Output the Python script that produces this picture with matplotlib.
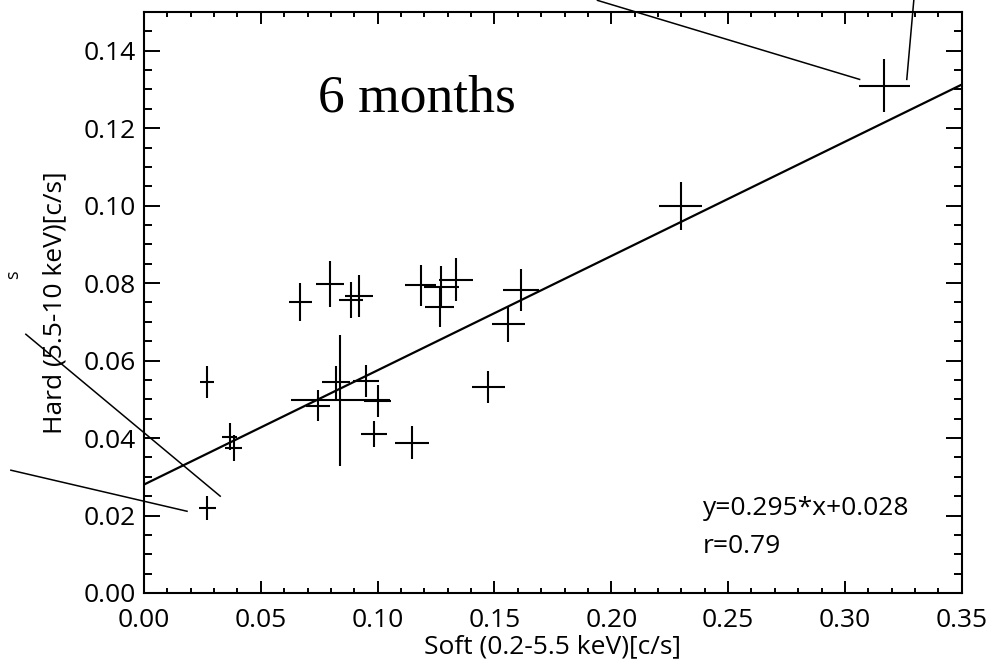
import matplotlib.pyplot as plt
from matplotlib.ticker import MultipleLocator

# soft / hard count rates with 1-sigma errors
soft = [0.0269, 0.0366, 0.0383, 0.0271, 0.0668, 0.0798, 0.0886, 0.0921,
        0.0840, 0.0823, 0.0744, 0.0950, 0.1000, 0.0985, 0.1185, 0.1272,
        0.1266, 0.1335, 0.1613, 0.1560, 0.1474, 0.1147, 0.2297, 0.3169]
soft_err = [0.0030, 0.0034, 0.0037, 0.0037, 0.0049, 0.0060, 0.0052, 0.0061,
            0.0213, 0.0060, 0.0050, 0.0054, 0.0057, 0.0057, 0.0066, 0.0075,
            0.0062, 0.0073, 0.0076, 0.0069, 0.0069, 0.0071, 0.0093, 0.0108]
hard = [0.0545, 0.0404, 0.0375, 0.0220, 0.0751, 0.0798, 0.0757, 0.0766,
        0.0497, 0.0544, 0.0484, 0.0547, 0.0495, 0.0411, 0.0794, 0.0790,
        0.0739, 0.0809, 0.0783, 0.0695, 0.0532, 0.0388, 0.0999, 0.1310]
hard_err = [0.0042, 0.0035, 0.0034, 0.0031, 0.0050, 0.0059, 0.0046, 0.0054,
            0.0168, 0.0043, 0.0039, 0.0041, 0.0041, 0.0034, 0.0054, 0.0055,
            0.0051, 0.0055, 0.0054, 0.0047, 0.0041, 0.0042, 0.0063, 0.0069]

slope = 0.295
intercept = 0.028
r_value = 0.79

# pointer lines coming in from the neighbouring panels
pointers = [
    ([0.1941, 0.3063], [0.1530, 0.1326]),
    ([0.3295, 0.3265], [0.1530, 0.1326]),
    ([-0.0506, 0.0326], [0.0668, 0.0250]),
    ([-0.0570, 0.0184], [0.0317, 0.0211]),
]

plt.rcParams['font.family'] = ['Open Sans', 'DejaVu Sans']

fig = plt.figure(figsize=(9.9, 6.63), dpi=100)
ax = fig.add_axes([0.1455, 0.1056, 0.8259, 0.8763])

ax.errorbar(soft, hard, xerr=soft_err, yerr=hard_err, fmt='none',
            ecolor='black', elinewidth=1.5, capsize=0)

xfit = [0.0, 0.35]
ax.plot(xfit, [slope * x + intercept for x in xfit], color='black', lw=1.6)

for xs, ys in pointers:
    ax.plot(xs, ys, color='black', lw=1.1, clip_on=False)

ax.set_xlim(0, 0.35)
ax.set_ylim(0, 0.15)
ax.xaxis.set_major_locator(MultipleLocator(0.05))
ax.xaxis.set_minor_locator(MultipleLocator(0.01))
ax.yaxis.set_major_locator(MultipleLocator(0.02))
ax.yaxis.set_minor_locator(MultipleLocator(0.005))
ax.xaxis.set_major_formatter(lambda v, p: f'{v:.2f}')
ax.yaxis.set_major_formatter(lambda v, p: f'{v:.2f}')

ax.tick_params(which='both', direction='in', top=True, right=True,
               width=1.4, labelsize=19, colors='black')
ax.tick_params(axis='x', which='major', length=8.6, pad=11)
ax.tick_params(axis='x', which='minor', length=3.8)
ax.tick_params(axis='y', which='major', length=11.5, pad=6)
ax.tick_params(axis='y', which='minor', length=5.5)
for sp in ax.spines.values():
    sp.set_linewidth(1.5)

ax.set_xlabel('Soft (0.2-5.5 keV)[c/s]', fontsize=19, labelpad=1)
ax.set_ylabel('Hard (5.5-10 keV)[c/s]', fontsize=19, labelpad=12)

ax.text(0.2128, 0.828, '6 months', transform=ax.transAxes,
        family='Liberation Serif', fontsize=38.5, ha='left', va='baseline')
ax.text(0.6836, 0.134, f'y={slope}*x+{intercept}', transform=ax.transAxes,
        fontsize=19, ha='left', va='baseline')
ax.text(0.6836, 0.0688, f'r={r_value}', transform=ax.transAxes,
        fontsize=19, ha='left', va='baseline')

# edge of the neighbouring panel's axis title
fig.text(0.013, 0.585, 's', rotation=90, fontsize=13, ha='center', va='center')

fig.savefig('out.png', dpi=100)
